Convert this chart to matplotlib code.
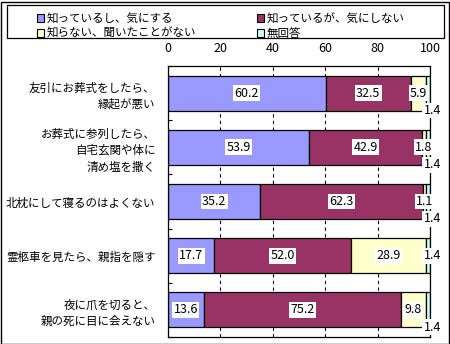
import matplotlib
matplotlib.use('Agg')
import matplotlib.pyplot as plt
from matplotlib.patches import Rectangle, Patch
import numpy as np

plt.rcParams['font.family'] = ['Noto Sans CJK JP', 'DejaVu Sans']

categories = ['友引にお葬式をしたら、\n縁起が悪い',
              'お葬式に参列したら、\n自宅玄関や体に\n清め塩を撒く',
              '北枕にして寝るのはよくない',
              '霊柩車を見たら、親指を隠す',
              '夜に爪を切ると、\n親の死に目に会えない']
series_names = ['知っているし、気にする', '知っているが、気にしない',
                '知らない、聞いたことがない', '無回答']
know_care = [60.2, 53.9, 35.2, 17.7, 13.6]
know_nocare = [32.5, 42.9, 62.3, 52.0, 75.2]
unknown = [5.9, 1.8, 1.1, 28.9, 9.8]
no_answer = [1.4, 1.4, 1.4, 1.4, 1.4]
x_ticks = [0, 20, 40, 60, 80, 100]
colors = ['#9999FF', '#993366', '#FFFFCC', '#CCFFFF']

FS = 8.3
NFS = 9
W, H = 450, 344
fig = plt.figure(figsize=(W / 100, H / 100), dpi=100)
fig.patch.set_facecolor('white')
fig.add_artist(Rectangle((0.5 / W, 0.5 / H), (W - 2) / W, (H - 2) / H,
                         transform=fig.transFigure, fill=False,
                         edgecolor='black', linewidth=1.0))

ax = fig.add_axes([168 / W, 1 - 337 / H, 262 / W, 271 / H])
series = [know_care, know_nocare, unknown, no_answer]
y = np.arange(len(categories))
left = np.zeros(len(categories))
for vals, col in zip(series, colors):
    ax.barh(y, vals, left=left, height=0.645, color=col,
            edgecolor='black', linewidth=0.9, zorder=2)
    left = left + np.array(vals)

ax.set_xlim(0, 100)
ax.set_ylim(len(categories) - 0.5, -0.5)
ax.set_xticks(x_ticks)
ax.set_xticklabels([str(t) for t in x_ticks])
ax.xaxis.tick_top()
ax.tick_params(axis='x', length=0, pad=8, labelsize=NFS)
ax.xaxis.grid(True, linestyle=(0, (3, 3)), color='black', linewidth=0.8, zorder=0)
ax.set_axisbelow(True)

ax.set_yticks(y)
ax.set_yticklabels(categories)
ax.tick_params(axis='y', length=0, pad=9, labelsize=FS)
for lbl in ax.get_yticklabels():
    lbl.set_linespacing(1.35)
ax.set_yticks(np.arange(len(categories) + 1) - 0.5, minor=True)
ax.tick_params(axis='y', which='minor', direction='in', length=3, width=0.8)
for s in ax.spines.values():
    s.set_linewidth(0.9)

box = dict(facecolor='white', edgecolor='none', pad=1.0)
left = np.zeros(len(categories))
for k, vals in enumerate(series):
    for i, v in enumerate(vals):
        cx = left[i] + v / 2
        if k < 3:
            ax.text(cx, i, f'{v:.1f}', ha='center', va='center', fontsize=NFS,
                    bbox=box, zorder=5)
        else:
            yy = i if i == 3 else i + 0.32
            ax.annotate(f'{v:.1f}', (cx, yy), xytext=(3, 0),
                        textcoords='offset points', ha='center', va='center',
                        fontsize=NFS, bbox=box, zorder=5, annotation_clip=False)
    left = left + np.array(vals)

# legend frame
fig.add_artist(Rectangle((7 / W, 1 - 38 / H), 437 / W, 33 / H,
                         transform=fig.transFigure, fill=False,
                         edgecolor='black', linewidth=0.9))
handles = [Patch(facecolor=c, edgecolor='black', linewidth=0.8) for c in colors]
order = [0, 2, 1, 3]
fig.legend([handles[i] for i in order], [series_names[i] for i in order],
           ncol=2, frameon=False, loc='upper left',
           bbox_to_anchor=(28 / W, 1 - 3 / H), fontsize=FS,
           handlelength=0.6, handleheight=0.6, handletextpad=0.2,
           columnspacing=5.3, labelspacing=0.15, borderpad=0.3)

fig.savefig('out.png', dpi=100)
